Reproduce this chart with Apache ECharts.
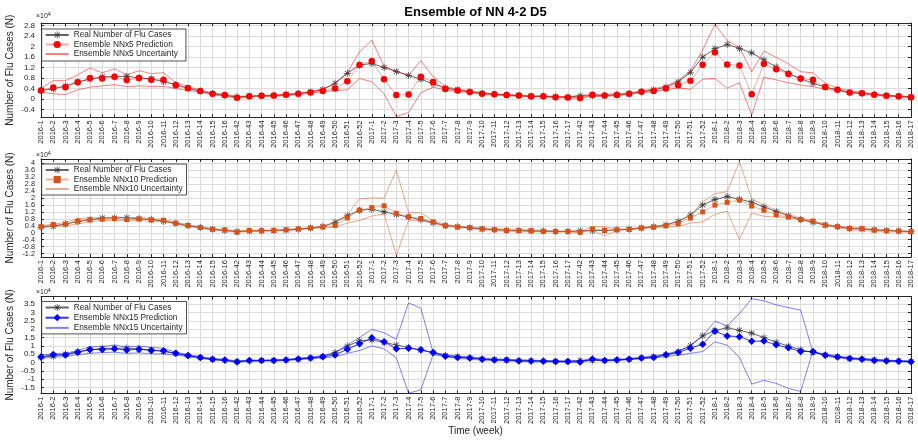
<!DOCTYPE html>
<html><head><meta charset="utf-8">
<script src="https://cdn.jsdelivr.net/npm/echarts@6.0.0/dist/echarts.min.js"></script>
<style>html,body{margin:0;padding:0;background:#fff}#c{width:918px;height:441px}</style>
</head><body><div id="c"></div>
<script>
const weeks = ['2016-1','2016-2','2016-3','2016-4','2016-5','2016-6','2016-7','2016-8','2016-9','2016-10','2016-11','2016-12','2016-13','2016-14','2016-15','2016-16',
'2016-42','2016-43','2016-44','2016-45','2016-46','2016-47','2016-48','2016-49','2016-50','2016-51','2016-52',
'2017-1','2017-2','2017-3','2017-4','2017-5','2017-6','2017-7','2017-8','2017-9','2017-10','2017-11','2017-12','2017-13','2017-14','2017-15','2017-16','2017-17',
'2017-42','2017-43','2017-44','2017-45','2017-46','2017-47','2017-48','2017-49','2017-50','2017-51','2017-52',
'2018-1','2018-2','2018-3','2018-4','2018-5','2018-6','2018-7','2018-8','2018-9','2018-10','2018-11','2018-12','2018-13','2018-14','2018-15','2018-16','2018-17'];

const realCases = [3300,3800,5000,6500,7500,8500,8500,8700,8000,7700,6600,5500,4000,3000,2000,1300,
800,1000,1200,1300,1600,2000,2700,3600,6000,9800,13000,
13500,12000,10500,9000,7500,5800,4200,3500,2800,2200,1800,1500,1300,1000,1000,800,700,
1200,1200,1300,1700,2000,2800,3500,4500,6500,10200,16000,
19200,20800,19300,17600,14900,12200,9800,7700,6000,4500,3500,2500,2200,1700,1300,1000,700];

const predNN5 = [3200,4400,4500,6400,8000,7800,8500,7200,8000,7300,7300,5200,4200,3000,2000,1500,
500,1000,1200,1300,1600,2000,2500,3000,4000,6800,13000,
14500,7500,1500,1700,8500,6500,3800,3200,2700,2000,1800,1500,1300,1000,1000,700,600,
400,1600,1300,1500,2000,2800,3000,4000,5200,7000,13100,
17800,13200,12800,1800,13400,11300,9500,7800,7300,4600,3500,2500,2200,1600,1200,1000,700];
const upperNN5 = [4000,7000,7000,9200,11800,10000,11500,9200,10800,9700,10000,6200,4800,3300,2300,1800,
1000,1200,1400,1500,1800,2200,2800,3800,6000,10000,18000,
22500,12500,10500,9000,14600,8500,4800,3700,3000,2400,2000,1700,1500,1300,1200,1000,900,
1300,1800,1700,2000,2300,3000,3800,5000,7000,10700,18700,
28500,22300,19700,10400,18300,15900,13400,10400,10000,6000,4100,3200,2500,2000,1500,1200,900];
const lowerNN5 = [2700,2000,1700,3500,4500,5000,5500,4700,5000,4800,4800,4000,3200,2500,1600,1000,
300,700,900,1000,1300,1700,2200,2800,3200,3500,7800,
6600,2000,-6700,-5200,2400,4500,3500,2800,2400,1800,1500,1200,1000,800,700,500,400,
300,1000,1000,1300,1700,2400,2800,3500,4200,3700,7500,
7800,4100,6200,-6100,8300,7300,6200,5300,4700,3700,3200,2300,2000,1400,1000,800,500];

const predNN10 = [3500,4800,5000,6800,7500,7800,8200,7600,8000,7300,7200,5500,4200,3000,2000,1700,
300,1300,1200,1300,1700,2200,2800,3300,4200,8500,13000,
14500,15500,11200,9200,8200,6200,4000,3300,3000,2200,1700,1300,1300,1200,800,700,700,
200,2200,1300,1700,2000,2700,3200,4000,5200,8500,12000,
15900,17500,18800,15400,12900,10400,9000,7500,6700,4400,3500,2500,2300,1500,1200,1000,600];
const upperNN10 = [4000,5000,6000,8000,8500,8800,9000,8800,8800,8000,7800,6000,4700,3500,2500,2000,
1000,1500,1500,1600,2000,2500,3000,3800,6000,10500,19500,
20000,20000,36000,11500,11500,7000,4800,3800,3300,2800,2500,2200,2000,1800,1300,1000,1000,
800,3500,3500,2000,2300,3000,3700,4700,6500,10000,17700,
22500,23600,41000,19600,16000,13000,10500,8500,7000,5000,3800,3200,3000,2200,1800,1200,800];
const lowerNN10 = [3000,3800,4000,5000,6500,7000,7200,7000,7000,6500,6500,5000,3800,2500,1500,1000,
200,800,800,1000,1300,1800,2300,2800,3200,5600,7100,
9600,10900,-13000,7200,7000,5500,3700,3000,2500,1800,1200,800,700,500,500,500,400,
200,1500,-1900,1500,1800,2400,2800,3300,3600,5600,6300,
10600,12500,-3800,11300,9500,9000,8800,7500,6200,4200,3000,1800,1300,800,500,500,300];

const predNN15 = [3300,4800,4500,6200,7800,7800,8200,7500,8000,7200,7000,5500,4200,3000,2000,1500,
300,1200,1200,1300,1500,2200,2800,3500,4500,8000,11200,
14800,12500,8200,8600,7600,6000,3800,3000,2800,2000,1600,1500,1000,1000,800,700,600,
400,2200,1200,1500,2000,2700,3000,4600,6000,8600,11000,
18700,15900,15500,12700,12900,10600,8800,6600,6600,4400,3300,2500,2000,1200,1000,800,500];
const upperNN15 = [4200,5500,5500,7200,9500,9500,10500,9200,10000,9000,8500,6200,4800,3500,2500,2000,
1000,1500,1500,1700,2000,2700,3200,4200,6000,10500,15000,
19900,17800,13900,35700,32500,6000,4800,3800,3500,2800,2200,2000,1700,1500,1200,1000,1000,
1200,2500,1800,2000,2500,3200,4000,5000,7000,10000,15900,
24700,21900,29300,38200,36900,34500,32900,31300,6000,5200,4000,3000,2500,2000,1500,1200,1000];
const lowerNN15 = [2500,3200,3500,4800,5500,6000,6200,5500,5800,5200,5200,4500,3500,2500,1500,1000,
200,700,800,1000,1200,1700,2200,2800,3500,5500,7200,
10000,8200,2800,-18300,-16300,4800,3500,2500,2000,1500,1200,1000,700,500,400,300,200,
0,1500,1000,1200,1700,2200,2800,3500,4500,5500,6600,
12400,10400,3000,-12900,-10600,-12500,-15500,-17300,7200,3800,2800,2000,1500,1000,700,500,300];

const yTicks1 = [-4000,0,4000,8000,12000,16000,20000,24000,28000];
const yTicks2 = [-12000,-8000,-4000,0,4000,8000,12000,16000,20000,24000,28000,32000,36000,40000];
const yTicks3 = [-15000,-10000,-5000,0,5000,10000,15000,20000,25000,30000,35000];

const FONT = '"Liberation Sans", Arial, Helvetica, sans-serif';
const AX = '#262626';
const GRIDC = '#dcdcdc';
const asterisk = 'path://M9,0L11,0L11,20L9,20Z M0,9L20,9L20,11L0,11Z M3.6,2.2L17.8,16.4L16.4,17.8L2.2,3.6Z M16.4,2.2L17.8,3.6L3.6,17.8L2.2,16.4Z';

const panels = [
  {top:23.0, height:94.3, min:-7000, max:29000, ticks:yTicks1, pred:predNN5, up:upperNN5, lo:lowerNN5,
   color:'#ff0000', sym:'circle', symSize:6.5, tag:'NNx5', predOp:0.35, legTop:29, legPad:[2,8,3,3], legGap:1.5,
   yFont:8, yLH:9, expY:16},
  {top:158.9, height:98.2, min:-14000, max:42500, ticks:yTicks2, pred:predNN10, up:upperNN10, lo:lowerNN10,
   color:'#d95319', sym:'rect', symSize:5, tag:'NNx10', predOp:0.45, legTop:164, legPad:[2,4,2,3], legGap:1.5,
   yFont:7.3, yLH:6, expY:155},
  {top:296.5, height:97.0, min:-18500, max:39500, ticks:yTicks3, pred:predNN15, up:upperNN15, lo:lowerNN15,
   color:'#0000ff', sym:'diamond', symSize:7.5, tag:'NNx15', predOp:0.8, legTop:301.5, legPad:[2,4,2,3], legGap:2.2,
   yFont:8, yLH:8, expY:292.5}
];

const fmt = v => String(parseFloat((v/1e4).toFixed(2)));

const grid=[], xAxis=[], yAxis=[], series=[], legend=[], graphic=[];
panels.forEach((p,i)=>{
  grid.push({left:41, right:7, top:p.top, height:p.height, containLabel:false});
  xAxis.push({type:'category', gridIndex:i, data:weeks, boundaryGap:false, position:'bottom',
    axisLine:{onZero:false, lineStyle:{color:AX, width:1}},
    axisTick:{inside:true, length:3, interval:0, lineStyle:{color:AX}},
    axisLabel:{interval:0, rotate:90, fontSize:7.5, fontFamily:FONT, color:AX, margin:3},
    splitLine:{show:true, interval:0, lineStyle:{color:GRIDC, width:1}}});
  xAxis.push({type:'category', gridIndex:i, data:weeks, boundaryGap:false, position:'top',
    axisLine:{onZero:false, lineStyle:{color:AX, width:1}},
    axisTick:{inside:true, length:3, interval:0, lineStyle:{color:AX}},
    axisLabel:{show:false}, splitLine:{show:false}});
  yAxis.push({type:'value', gridIndex:i, min:p.min, max:p.max, position:'left',
    axisLine:{show:true, onZero:false, lineStyle:{color:AX}},
    axisTick:{show:true, inside:true, length:3, customValues:p.ticks, lineStyle:{color:AX}},
    axisLabel:{customValues:p.ticks, formatter:fmt, fontSize:p.yFont, lineHeight:p.yLH, fontFamily:FONT, color:AX, margin:6,
      showMinLabel:true, showMaxLabel:true, hideOverlap:false},
    splitLine:{show:true, lineStyle:{color:GRIDC, width:1}}});
  yAxis.push({type:'value', gridIndex:i, min:p.min, max:p.max, position:'right',
    axisLine:{show:true, onZero:false, lineStyle:{color:AX}},
    axisTick:{show:true, inside:true, length:3, customValues:p.ticks, lineStyle:{color:AX}},
    axisLabel:{show:false}, splitLine:{show:false}});
  const xi = i*2, yi = i*2;
  const realName = 'Real Number of Flu Cases';
  const predName = 'Ensemble ' + p.tag + ' Prediction';
  const uncName = 'Ensemble ' + p.tag + ' Uncertainty';
  series.push({type:'line', name:realName, xAxisIndex:xi, yAxisIndex:yi, data:realCases,
    symbol:asterisk, symbolSize:7, showSymbol:true, z:2,
    itemStyle:{color:'#3a3a3a'}, lineStyle:{color:'#4a4a4a', width:1, opacity:0.85}});
  series.push({type:'line', name:predName, xAxisIndex:xi, yAxisIndex:yi, data:p.pred,
    symbol:p.sym, symbolSize:p.symSize, showSymbol:true, z:3,
    itemStyle:{color:p.color}, lineStyle:{color:p.color, width:1, opacity:p.predOp}});
  [p.up, p.lo].forEach(arr=>{
    series.push({type:'line', name:uncName, xAxisIndex:xi, yAxisIndex:yi, data:arr,
      symbol:'circle', symbolSize:0, showSymbol:false, z:4,
      itemStyle:{color:'rgba(0,0,0,0)', borderWidth:0},
      lineStyle:{color:p.color, width:1, opacity:0.5}});
  });
  legend.push({orient:'vertical', left:41.7, top:p.legTop, data:[realName, predName, uncName],
    backgroundColor:'#ffffff', borderColor:'#262626', borderWidth:0.8, borderRadius:0,
    padding:p.legPad, itemGap:p.legGap, itemWidth:23, itemHeight:9, selectedMode:false,
    textStyle:{fontSize:8.3, fontFamily:FONT, color:AX}});
  graphic.push({type:'text', x:36, y:p.expY, style:{text:'{a|×10}{b|4}', font:'7px '+FONT, verticalAlign:'middle',
    rich:{a:{fontSize:7, fontFamily:FONT, fill:AX}, b:{fontSize:5.5, fontFamily:FONT, fill:AX, verticalAlign:'top', padding:[0,0,4,0]}}}});
  graphic.push({type:'text', x:10, y:p.top+p.height/2, rotation:Math.PI/2,
    style:{text:'Number of Flu Cases (N)', font:'10px '+FONT, fill:AX, align:'center', verticalAlign:'middle'}});
});
graphic.push({type:'text', x:475.5, y:12, style:{text:'Ensemble of NN 4-2 D5', font:'bold 13px '+FONT, fill:'#000', align:'center', verticalAlign:'middle'}});
graphic.push({type:'text', x:475.5, y:431.5, style:{text:'Time (week)', font:'10px '+FONT, fill:AX, align:'center', verticalAlign:'middle'}});

const chart = echarts.init(document.getElementById('c'), null, {renderer:'canvas'});
chart.setOption({animation:false, backgroundColor:'#ffffff', grid, xAxis, yAxis, series, legend, graphic});
</script></body></html>
